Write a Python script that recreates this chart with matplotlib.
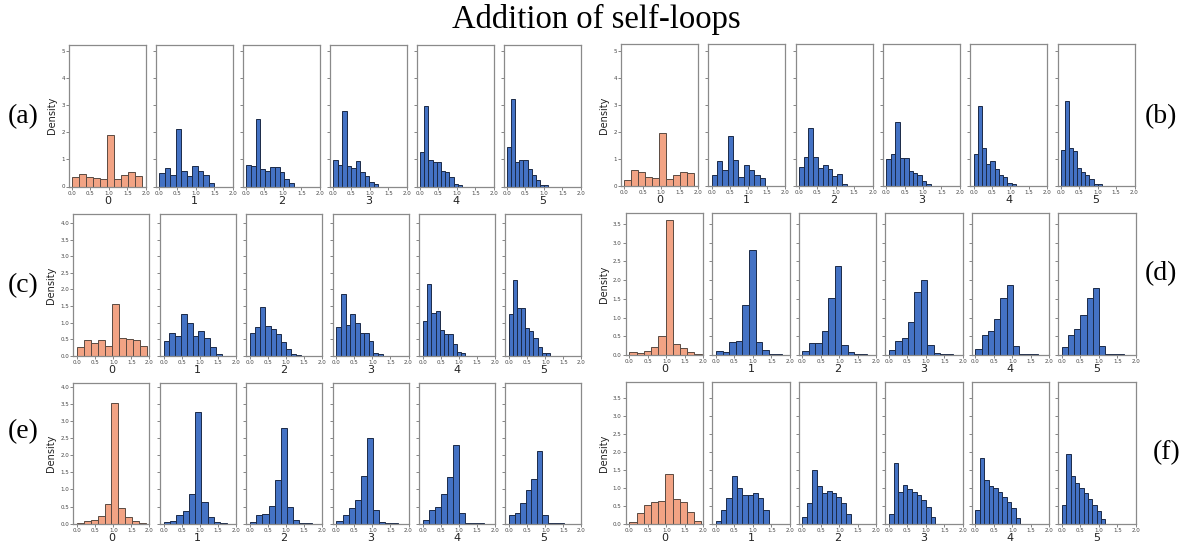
import numpy as np
import matplotlib
matplotlib.use("Agg")
import matplotlib.pyplot as plt

W, H = 1182, 541
fig = plt.figure(figsize=(W / 100, H / 100), dpi=100)

# ---------------- data ----------------
layer_labels = ["0", "1", "2", "3", "4", "5"]
x_ticks = [0.0, 0.5, 1.0, 1.5, 2.0]

# upper end of the histogram range of each layer (10 equal bins from 0)
a_range_max = [1.90, 1.50, 1.30, 1.22, 1.14, 1.11]
a_density = [
    [0.34, 0.46, 0.35, 0.31, 0.26, 1.90, 0.26, 0.43, 0.54, 0.39],
    [0.50, 0.69, 0.43, 2.12, 0.58, 0.39, 0.76, 0.58, 0.43, 0.14],
    [0.79, 0.75, 2.50, 0.63, 0.59, 0.71, 0.71, 0.54, 0.27, 0.12],
    [0.98, 0.80, 2.79, 0.76, 0.68, 0.95, 0.54, 0.39, 0.18, 0.09],
    [1.28, 2.98, 0.98, 0.91, 0.90, 0.57, 0.55, 0.34, 0.10, 0.05],
    [1.47, 3.24, 0.92, 0.98, 0.98, 0.64, 0.43, 0.23, 0.05, 0.05],
]

b_range_max = [1.89, 1.45, 1.30, 1.21, 1.15, 1.11]
b_density = [
    [0.21, 0.57, 0.52, 0.31, 0.28, 1.95, 0.24, 0.39, 0.50, 0.46],
    [0.39, 0.90, 0.57, 1.84, 0.94, 0.31, 0.75, 0.57, 0.39, 0.27],
    [0.68, 1.05, 2.12, 1.05, 0.64, 0.76, 0.60, 0.35, 0.42, 0.08],
    [1.00, 1.19, 2.36, 1.04, 1.04, 0.53, 0.46, 0.40, 0.18, 0.08],
    [1.17, 2.95, 1.38, 0.81, 0.90, 0.60, 0.39, 0.34, 0.10, 0.05],
    [1.33, 3.15, 1.38, 1.30, 0.64, 0.50, 0.39, 0.23, 0.05, 0.05],
]

c_range_max = [1.93, 1.61, 1.42, 1.28, 1.18, 1.12]
c_density = [
    [0.27, 0.46, 0.37, 0.47, 0.29, 1.56, 0.53, 0.50, 0.47, 0.29],
    [0.44, 0.69, 0.59, 1.26, 1.00, 0.59, 0.75, 0.53, 0.27, 0.05],
    [0.70, 0.86, 1.47, 0.90, 0.82, 0.65, 0.42, 0.20, 0.06, 0.02],
    [0.86, 1.87, 0.94, 1.25, 0.98, 0.68, 0.68, 0.44, 0.09, 0.06],
    [1.05, 2.17, 1.29, 1.36, 0.78, 0.67, 0.67, 0.34, 0.10, 0.07],
    [1.26, 2.28, 1.45, 1.45, 0.83, 0.75, 0.54, 0.26, 0.07, 0.07],
]

d_range_max = [1.96, 1.80, 1.76, 1.73, 1.70, 1.67]
d_density = [
    [0.09, 0.06, 0.12, 0.21, 0.51, 3.60, 0.30, 0.19, 0.07, 0.04],
    [0.10, 0.08, 0.36, 0.37, 1.34, 2.79, 0.34, 0.13, 0.04, 0.02],
    [0.12, 0.33, 0.31, 0.63, 1.51, 2.38, 0.28, 0.07, 0.02, 0.02],
    [0.13, 0.37, 0.45, 0.89, 1.67, 2.00, 0.27, 0.06, 0.02, 0.02],
    [0.15, 0.53, 0.63, 0.95, 1.51, 1.88, 0.24, 0.04, 0.02, 0.02],
    [0.21, 0.54, 0.69, 1.06, 1.51, 1.79, 0.24, 0.04, 0.02, 0.02],
]

e_range_max = [1.90, 1.75, 1.71, 1.70, 1.69, 1.52]
e_density = [
    [0.03, 0.07, 0.10, 0.22, 0.59, 3.54, 0.47, 0.19, 0.07, 0.01],
    [0.04, 0.09, 0.25, 0.36, 0.88, 3.27, 0.62, 0.19, 0.05, 0.01],
    [0.05, 0.25, 0.29, 0.52, 1.29, 2.80, 0.50, 0.10, 0.01, 0.01],
    [0.07, 0.26, 0.45, 0.68, 1.40, 2.50, 0.40, 0.04, 0.01, 0.01],
    [0.10, 0.40, 0.49, 0.86, 1.37, 2.29, 0.32, 0.03, 0.01, 0.01],
    [0.24, 0.30, 0.61, 0.99, 1.30, 2.13, 0.26, 0.01, 0.01, 0.01],
]

f_range_max = [1.95, 1.43, 1.32, 1.26, 1.21, 1.18]
f_density = [
    [0.04, 0.29, 0.51, 0.62, 0.64, 1.38, 0.68, 0.60, 0.33, 0.07],
    [0.07, 0.37, 0.72, 1.32, 1.00, 0.80, 0.80, 0.85, 0.72, 0.38],
    [0.19, 0.59, 1.49, 1.05, 0.86, 0.91, 0.86, 0.74, 0.59, 0.27],
    [0.27, 1.69, 0.88, 1.07, 0.97, 0.89, 0.79, 0.65, 0.48, 0.20],
    [0.37, 1.83, 1.22, 1.05, 1.00, 0.88, 0.74, 0.60, 0.43, 0.15],
    [0.52, 1.96, 1.34, 1.15, 0.99, 0.86, 0.69, 0.52, 0.36, 0.13],
]

a_yticks = [0, 1, 2, 3, 4, 5]
b_yticks = [0, 1, 2, 3, 4, 5]
c_yticks = [0.0, 0.5, 1.0, 1.5, 2.0, 2.5, 3.0, 3.5, 4.0]
d_yticks = [0.0, 0.5, 1.0, 1.5, 2.0, 2.5, 3.0, 3.5]
e_yticks = [0.0, 0.5, 1.0, 1.5, 2.0, 2.5, 3.0, 3.5, 4.0]
f_yticks = [0.0, 0.5, 1.0, 1.5, 2.0, 2.5, 3.0, 3.5]

# ---------------- layout (pixels) ----------------
left_cols_a = [69.3, 156.3, 243.3, 330.3, 417.3, 504.3]
left_cols_b = [621.0, 708.3, 795.6, 882.9, 970.2, 1057.5]
left_cols_c = [73.3, 159.7, 246.1, 332.5, 418.9, 505.3]
left_cols_d = [625.7, 712.2, 798.7, 885.2, 971.7, 1058.2]

panels = [
    # label, ranges, densities, lefts, width, top, bottom, ytop, yticks, yfmt, xleft, label xy
    ("(a)", a_range_max, a_density, left_cols_a, 76.5, 45.0, 186.5, 5.23, a_yticks, "%d", -0.075, (23, 117)),
    ("(b)", b_range_max, b_density, left_cols_b, 77.0, 44.3, 185.7, 5.23, b_yticks, "%d", -0.09, (1161, 117)),
    ("(c)", c_range_max, c_density, left_cols_c, 76.0, 214.3, 355.7, 4.27, c_yticks, "%.1f", -0.11, (23, 286)),
    ("(d)", d_range_max, d_density, left_cols_d, 77.5, 213.3, 355.0, 3.78, d_yticks, "%.1f", -0.10, (1161, 274)),
    ("(e)", e_range_max, e_density, left_cols_c, 76.0, 382.7, 523.7, 4.12, e_yticks, "%.1f", -0.11, (23, 432)),
    ("(f)", f_range_max, f_density, left_cols_d, 77.5, 382.3, 523.7, 3.95, f_yticks, "%.1f", -0.10, (1167, 453)),
]

orange = "#F2A384"
orange_edge = "#5b4a42"
blue = "#4472C4"
blue_edge = "#1b2a48"
spine_col = "#8a8a8a"

for (lab, rmaxs, dens, lefts, w, top, bottom, ytop, yt, yfmt, xleft, lxy) in panels:
    for i in range(6):
        ax = fig.add_axes([lefts[i] / W, 1 - bottom / H, w / W, (bottom - top) / H])
        edges = np.linspace(0, rmaxs[i], 11)
        fc, ec = (orange, orange_edge) if i == 0 else (blue, blue_edge)
        ax.bar(edges[:-1], dens[i], width=np.diff(edges), align="edge",
               color=fc, edgecolor=ec, linewidth=0.7)
        ax.set_xlim(xleft, 2.0)
        ax.set_ylim(0, ytop)
        ax.set_xticks(x_ticks)
        ax.set_xticklabels(["%.1f" % t for t in x_ticks])
        ax.set_yticks(yt)
        ax.set_yticklabels([yfmt % t for t in yt])
        ax.tick_params(labelsize=4, length=2, width=0.5, color="#555555",
                       labelcolor="#444444", pad=1)
        if i > 0:
            ax.tick_params(labelleft=False)
        else:
            ax.set_ylabel("Density", fontsize=7, labelpad=3, color="#222222")
        ax.set_xlabel(layer_labels[i], fontsize=8, labelpad=0, color="#222222")
        for s in ax.spines.values():
            s.set_color(spine_col)
            s.set_linewidth(0.9)
    fig.text(lxy[0] / W, 1 - lxy[1] / H, lab, family="Liberation Serif",
             fontsize=20, ha="center", va="center")

fig.text(596 / W, 1 - 19 / H, "Addition of self-loops", family="Liberation Serif",
         fontsize=23.5, ha="center", va="center")

fig.savefig("out.png", dpi=100)
